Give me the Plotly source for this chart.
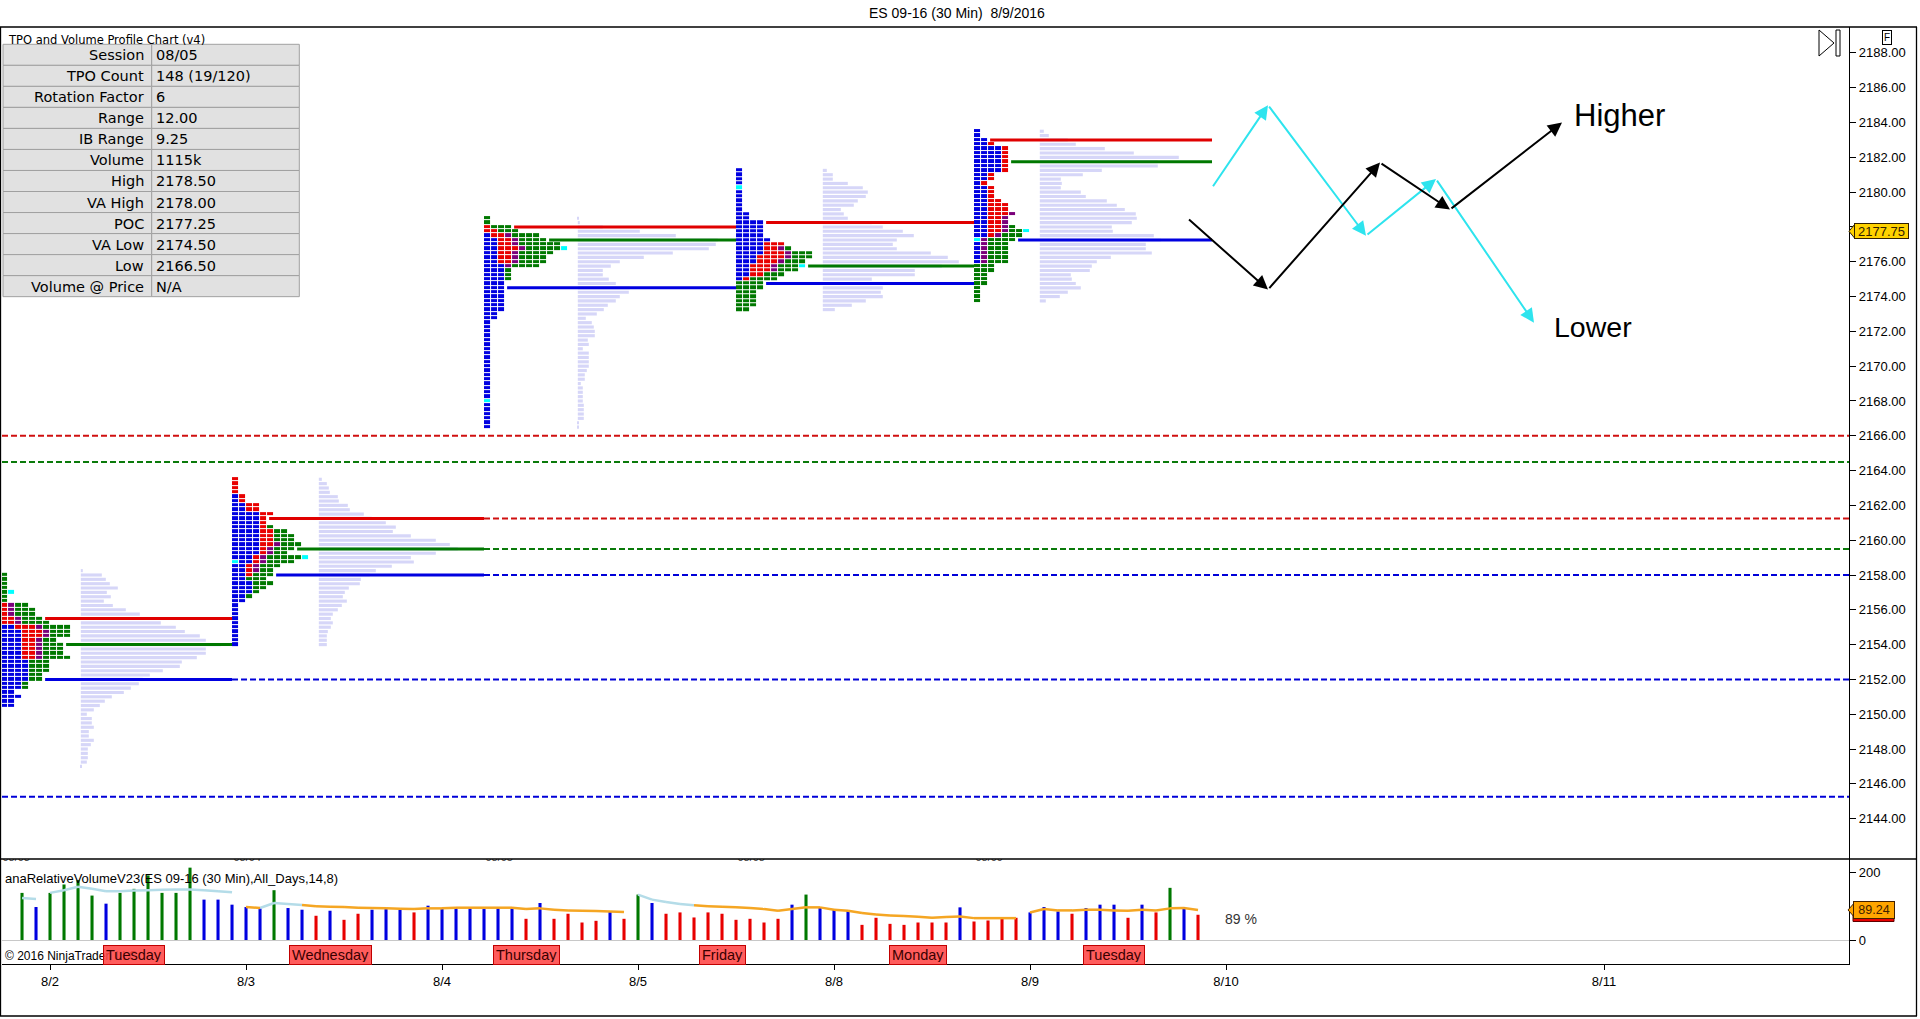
import plotly.graph_objects as go

W, H = 1920, 1019

# ---------------- DATA ----------------
TITLE = "ES 09-16 (30 Min)  8/9/2016"
PRICE_TICKS = [2144, 2146, 2148, 2150, 2152, 2154, 2156, 2158, 2160, 2162, 2164, 2166,
               2168, 2170, 2172, 2174, 2176, 2178, 2180, 2182, 2184, 2186, 2188]
RV_TICKS = [0, 200]
DATE_LABELS = ["8/2", "8/3", "8/4", "8/5", "8/8", "8/9", "8/10", "8/11"]
DATE_TICK_BAR = [2, 16, 30, 44, 58, 72, 86, 113]

SESSION_LABELS = ["08/03", "08/04", "08/05", "08/08", "08/09"]
TPO_START_BAR = [-1.5, 15.0, 33.0, 51.0, 68.0]
SESSION_END_BAR = [15.0, 33.0, 51.0, 68.0, 85.0]
TPO_HIGH = [2158.0, 2163.5, 2178.5, 2181.25, 2183.5]

TPO_0803 = ["G", "G", "G", "G", "GC", "G", "G", "RPGG", "RPGGG", "RPGGG", "RRPGGG",
            "RRPGGGG", "BBRRRPGGGG", "BBBRRRPGGG", "BBBRRRPGGG", "BBBRRPGG", "BBBRRPGGG",
            "BBBRRPGGG", "BBBRRPGGG", "BBBRRPGGGG", "BBBBGGG", "BBBBGGG", "BBBBGGG",
            "BBBBGG", "BBBBGG", "BBBG", "BBBG", "BB", "BBB", "BB", "BB"]
TPO_0804 = ["R", "R", "R", "R", "BR", "BR", "BBRR", "BBRR", "BBBBRR", "BBBBR", "BBBBR",
            "BBBBRG", "BBBBRRGG", "BBBBRRGGG", "BBBBRRGGG", "BBBBRRPGGG", "BBBBRPGGG",
            "BBBBRPGG", "BBBRPGGGGGC", "CBBRPGGGG", "BBRPGGG", "BBRPGG", "BBRGGG", "BBGGG",
            "BBBGGG", "BBBGG", "BBBG", "BBG", "BB", "B", "B", "B", "B", "B", "B", "B", "B",
            "B", "B"]
TPO_0805 = ["G", "G", "RGGG", "RRGGG", "BRRPGGGG", "BBRRPGGGG", "BBRRPGGGGGG",
            "BBRRRPGGGGGC", "BBRRPGGGGG", "BBRRPGGGG", "BBRRPGGGG", "BBBPGGGG", "BBBG",
            "BBBG", "BBBG", "BBB", "BBB", "BBB", "BBB", "BBB", "BBB", "BBB", "BB", "BB",
            "B", "B", "B", "B", "B", "B", "B", "B", "B", "B", "B", "B", "B", "B", "B", "B",
            "B", "B", "C", "B", "B", "B", "B", "B", "B"]
TPO_0808 = ["B", "B", "B", "B", "C", "B", "B", "B", "B", "B", "BB", "BB", "BBBB", "BBBB",
            "BBBB", "BBBB", "BBBBB", "BBBBRRR", "BBBBRRPG", "BBBBRRRPGGG", "BBBRRRRPGGG",
            "BBBRRRPGGG", "BBRRRPGGGC", "BBRRRPGGG", "BBRRGGG", "BRGGGG", "GGGG", "GGGG",
            "GGG", "GGG", "GGG", "GGG", "GG"]
TPO_0809 = ["B", "B", "BB", "BBR", "BBBBR", "BBBBR", "BBBBR", "BBBBR", "BBBBR", "BBBBR",
            "BBR", "BBR", "BR", "BBR", "BBR", "BBR", "BBRR", "BBRRR", "BBRRR", "BBRRRP",
            "BBRRP", "BBRRP", "BBRRPG", "BBRRPGGC", "BBRPGGG", "CPGGGG", "BPGGG", "BPGGG",
            "BPGGG", "BPGGG", "BPGGG", "GGG", "GGG", "GG", "GG", "GG", "G", "G", "G", "G"]
TPO_ROWS = [TPO_0803, TPO_0804, TPO_0805, TPO_0808, TPO_0809]

# volume profile (relative volume per 0.25 price row, top row first)
VOL_START_BAR = [4.2, 21.2, 39.7, 57.2, 72.7]
VOL_HIGH = [2158.25, 2163.5, 2178.5, 2181.25, 2183.5]
VOL_0803 = [2, 21, 25, 29, 37, 26, 30, 23, 32, 45, 59, 81, 80, 95, 104, 119, 125, 140, 125,
            125, 116, 101, 99, 82, 69, 62, 58, 50, 43, 31, 24, 19, 13, 6, 11, 11, 13, 8, 8,
            13, 10, 7, 7, 7, 6, 1]
VOL_0804 = [3, 8, 10, 11, 19, 20, 29, 31, 45, 53, 67, 77, 74, 92, 117, 131, 139, 117, 92,
            95, 73, 57, 51, 42, 41, 30, 26, 24, 28, 23, 19, 14, 12, 14, 12, 9, 8, 8, 8]
VOL_0805 = [1, 2, 25, 62, 98, 140, 138, 131, 95, 66, 42, 33, 25, 25, 31, 38, 52, 51, 42, 38,
            30, 26, 19, 8, 14, 16, 17, 17, 10, 11, 5, 11, 11, 11, 11, 9, 7, 7, 3, 5, 5, 5,
            5, 6, 6, 6, 6, 1, 1]
VOL_0808 = [4, 10, 10, 25, 40, 45, 43, 35, 31, 18, 21, 25, 49, 60, 80, 91, 74, 70, 74, 108,
            125, 136, 119, 92, 92, 49, 49, 60, 58, 60, 43, 29, 12]
VOL_0809 = [4, 9, 28, 36, 65, 94, 139, 118, 118, 62, 43, 21, 22, 21, 41, 46, 67, 77, 85, 96,
            97, 92, 72, 73, 114, 121, 106, 106, 112, 71, 57, 52, 50, 31, 32, 36, 41, 28, 20, 6]
VOLS = [VOL_0803, VOL_0804, VOL_0805, VOL_0808, VOL_0809]

VAH = [2155.5, 2161.25, 2178.0, 2178.25, 2183.0]
POC = [2154.0, 2159.5, 2177.25, 2175.75, 2181.75]
VAL = [2152.0, 2158.0, 2174.5, 2174.75, 2177.25]
NAKED = [("VAL", 0), ("VAH", 1), ("POC", 1), ("VAL", 1)]      # untested levels of visible sessions
OLD_NAKED_PRICE = [2166.0, 2164.5, 2145.25]                   # from earlier sessions
OLD_NAKED_KIND = ["VAH", "POC", "VAL"]

LAST_PRICE = 2177.75

# relative volume indicator (30 min bars)
RV_VALUE = [140, 98, 140, 165, 178, 132, 108, 140, 152, 192, 140, 140, 215, 120, 120, 105,
            98, 95, 148, 95, 90, 72, 87, 60, 78, 90, 92, 90, 82, 102, 92, 98, 95, 92, 95,
            98, 63, 110, 63, 78, 52, 57, 85, 63, 135, 110, 78, 82, 67, 82, 78, 60, 63, 52,
            63, 105, 135, 97, 90, 87, 45, 66, 48, 45, 52, 52, 52, 97, 55, 58, 63, 66, 82,
            98, 85, 78, 95, 105, 105, 66, 105, 82, 155, 98, 75]
RV_COLOR = "GBGGGGBGGG" "GGGBBBBBGB" "BRBRRBBBRB" "BBBBBBRBRR" "RRBRGBRRRR" \
           "RRRRRBGBBB" "RRRRRRRBRR" "RRBBBRBBBR" "BRGBR"
RV_AVG = [125, 122, 140, 148, 158, 152, 145, 145, 147, 148, 149, 150, 150, 148, 145, 142,
          98, 95, 110, 107, 104, 100, 99, 98, 96, 95, 94, 93, 92, 94,
          94, 96, 96, 96, 96, 96, 92, 94, 90, 88, 87, 86, 85, 83,
          135, 120, 113, 107, 103, 100, 99, 97, 95, 92, 87, 92, 97, 97,
          90, 87, 80, 76, 73, 71, 69, 66, 68, 70, 65, 65, 65, 65,
          82, 92, 88, 88, 90, 90, 88, 87, 90, 88, 94, 95, 89.24]
RV_AVG_COLOR = "L" * 16 + "OO" + "LLL" + "O" * 23 + "L" * 5 + "O" * 36
RV_AVG_BREAKS = [2, 16, 44, 72]
RV_TITLE = "anaRelativeVolumeV23(ES 09-16 (30 Min),All_Days,14,8)"

DAY_NAMES = ["Tuesday", "Wednesday", "Thursday", "Friday", "Monday", "Tuesday"]
DAY_CENTER_BAR = [8, 22, 36, 50, 64, 78]

TABLE_TITLE = "TPO and Volume Profile Chart (v4)"
TABLE_LABELS = ["Session", "TPO Count", "Rotation Factor", "Range", "IB Range", "Volume",
                "High", "VA High", "POC", "VA Low", "Low", "Volume @ Price"]
TABLE_VALUES = ["08/05", "148 (19/120)", "6", "12.00", "9.25", "1115k", "2178.50",
                "2178.00", "2177.25", "2174.50", "2166.50", "N/A"]

CYAN_PATH_BAR = [85, 89, 96, 101, 108]
CYAN_PATH_PRICE = [2180.25, 2185.0, 2177.5, 2180.75, 2172.5]
BLACK_PATH_BAR = [83.25, 89, 97, 102, 110]
BLACK_PATH_PRICE = [2178.5, 2174.4, 2181.7, 2179.0, 2184.0]
NOTE_TEXT = ["Higher", "Lower"]
NOTE_BAR = [110.7, 109.3]
NOTE_PRICE = [2184.4, 2172.25]

# ---------------- STYLE / LAYOUT ----------------
def px(x):
    return x / W


def py(y):
    return 1 - y / H


ARIAL = "Liberation Sans, Arial, sans-serif"
TAHOMA = "DejaVu Sans, Tahoma, sans-serif"
NOTE_SIZE = [31, 28.5]
X_RANGE = [-1.43, 130.5]
X_DOM = [px(2), px(1849)]
PRICE_DOM = [py(859), py(27)]
RV_DOM = [py(964), py(859)]
PRICE_RANGE = [2141.68, 2189.49]
RV_RANGE = [-71.3, 240.7]
TICK = 0.25
COL_W = 0.5

TPO_CODE = {"B": 1, "R": 2, "P": 3, "G": 4, "C": 5}
C_BLUE, C_RED, C_PURPLE, C_GREEN, C_CYAN = "#0000E0", "#E80000", "#7A007A", "#007800", "#00FFFF"
LEVEL_COLOR = {"VAH": "#E00000", "POC": "#007800", "VAL": "#0000E0"}
DASH_COLOR = {"VAH": "#D01010", "POC": "#0A7A0A", "VAL": "#0000D8"}
VOL_COLOR = "#D6D6F8"
VOL_SCALE = 1 / 14.0
RV_COLORS = {"G": "#007800", "B": "#0000E0", "R": "#E80000"}
AVG_COLORS = {"L": "#B4DCE8", "O": "#F5A623"}

fig = go.Figure()

# volume profiles
for s in range(5):
    v = VOLS[s]
    prices = [VOL_HIGH[s] - TICK * k for k in range(len(v))]
    fig.add_trace(go.Bar(orientation="h", y=prices, x=[a * VOL_SCALE for a in v],
                         base=VOL_START_BAR[s], width=0.18,
                         marker=dict(color=VOL_COLOR, line=dict(width=0)),
                         xaxis="x", yaxis="y", hoverinfo="skip", showlegend=False))

# TPO profiles
cs = [[0.0, C_BLUE], [0.2, C_BLUE], [0.2, C_RED], [0.4, C_RED], [0.4, C_PURPLE],
      [0.6, C_PURPLE], [0.6, C_GREEN], [0.8, C_GREEN], [0.8, C_CYAN], [1.0, C_CYAN]]
for s in range(5):
    rows = TPO_ROWS[s]
    ncol = max(len(r) for r in rows)
    prices = [TPO_HIGH[s] - TICK * k for k in range(len(rows))]
    z = [[TPO_CODE[ch] for ch in r] + [None] * (ncol - len(r)) for r in rows]
    xs = [TPO_START_BAR[s] + COL_W * c + COL_W / 2 for c in range(ncol)]
    fig.add_trace(go.Heatmap(x=xs, y=prices[::-1], z=z[::-1], colorscale=cs, zmin=0.5,
                             zmax=5.5, showscale=False, xgap=1, ygap=1, hoverinfo="skip",
                             xaxis="x", yaxis="y"))


def row_len(s, price):
    k = int(round((TPO_HIGH[s] - price) / TICK))
    rows = TPO_ROWS[s]
    return len(rows[k]) if 0 <= k < len(rows) else 0


# old naked levels (dashed full width)
for p, kind in zip(OLD_NAKED_PRICE, OLD_NAKED_KIND):
    fig.add_trace(go.Scatter(x=[X_RANGE[0], X_RANGE[1]], y=[p, p], mode="lines",
                             line=dict(color=DASH_COLOR[kind], width=2, dash="6px,3px"),
                             xaxis="x", yaxis="y", hoverinfo="skip", showlegend=False))

# value area / POC lines
for s in range(5):
    for kind, p in (("VAH", VAH[s]), ("POC", POC[s]), ("VAL", VAL[s])):
        x0 = TPO_START_BAR[s] + COL_W * row_len(s, p) + 0.15
        x1 = SESSION_END_BAR[s]
        fig.add_trace(go.Scatter(x=[x0, x1], y=[p, p], mode="lines",
                                 line=dict(color=LEVEL_COLOR[kind], width=3),
                                 xaxis="x", yaxis="y", hoverinfo="skip", showlegend=False))
        if (kind, s) in NAKED:
            fig.add_trace(go.Scatter(x=[x1, X_RANGE[1]], y=[p, p], mode="lines",
                                     line=dict(color=DASH_COLOR[kind], width=2, dash="6px,3px"),
                                     xaxis="x", yaxis="y", hoverinfo="skip", showlegend=False))

# relative volume bars
fig.add_trace(go.Bar(x=list(range(len(RV_VALUE))), y=RV_VALUE, width=0.22,
                     marker=dict(color=[RV_COLORS[c] for c in RV_COLOR], line=dict(width=0)),
                     xaxis="x2", yaxis="y2", hoverinfo="skip", showlegend=False))

# average line (segmented by colour)
seg = {"L": ([], []), "O": ([], [])}
for i in range(1, len(RV_AVG)):
    if i in RV_AVG_BREAKS:
        continue
    c = RV_AVG_COLOR[i]
    seg[c][0].extend([i - 1, i, None])
    seg[c][1].extend([RV_AVG[i - 1], RV_AVG[i], None])
for c, (xx, yy) in seg.items():
    fig.add_trace(go.Scatter(x=xx, y=yy, mode="lines", line=dict(color=AVG_COLORS[c], width=2.5),
                             xaxis="x2", yaxis="y2", hoverinfo="skip", showlegend=False))

# session date labels (clipped at top of indicator panel)
fig.add_trace(go.Scatter(x=[b + 0.1 for b in TPO_START_BAR], y=[RV_RANGE[1] + 3.5] * 5,
                         mode="text", text=SESSION_LABELS, textposition="middle right",
                         textfont=dict(family=ARIAL, size=11, color="#444444"),
                         cliponaxis=True, xaxis="x2", yaxis="y2", hoverinfo="skip",
                         showlegend=False))

ann = []
shapes = []

# arrows
for bars, prices, col in ((CYAN_PATH_BAR, CYAN_PATH_PRICE, "#2EE4EE"),
                          (BLACK_PATH_BAR, BLACK_PATH_PRICE, "#000000")):
    for k in range(1, len(bars)):
        ann.append(dict(x=bars[k], y=prices[k], ax=bars[k - 1], ay=prices[k - 1],
                        xref="x", yref="y", axref="x", ayref="y", text="", showarrow=True,
                        arrowhead=2, arrowsize=1.4, arrowwidth=2, arrowcolor=col, standoff=0))
for t, b, p, fs in zip(NOTE_TEXT, NOTE_BAR, NOTE_PRICE, NOTE_SIZE):
    ann.append(dict(x=b, y=p, xref="x", yref="y", text=t, showarrow=False, xanchor="left",
                    yanchor="middle", font=dict(family=ARIAL, size=fs, color="black")))

# title
ann.append(dict(x=px(957), y=py(13), xref="paper", yref="paper", text=TITLE, showarrow=False,
                xanchor="center", yanchor="middle", font=dict(family=ARIAL, size=14, color="black")))

# table
row_h = 21.03
top = 44.3
for r, (lab, val) in enumerate(zip(TABLE_LABELS, TABLE_VALUES)):
    y0 = top + r * row_h
    y1 = y0 + row_h
    for xa, xb in ((3, 151.7), (151.7, 299.3)):
        shapes.append(dict(type="rect", xref="paper", yref="paper", x0=px(xa), x1=px(xb),
                           y0=py(y1), y1=py(y0), fillcolor="#E1E1E1",
                           line=dict(color="#A0A0A0", width=1), layer="above"))
    ann.append(dict(x=px(146), y=py((y0 + y1) / 2 + 0.5), xref="paper", yref="paper", text=lab,
                    showarrow=False, xanchor="right", yanchor="middle",
                    font=dict(family=TAHOMA, size=14.5, color="black")))
    ann.append(dict(x=px(154), y=py((y0 + y1) / 2 + 0.5), xref="paper", yref="paper", text=val,
                    showarrow=False, xanchor="left", yanchor="middle",
                    font=dict(family=TAHOMA, size=14.5, color="black")))
ann.append(dict(x=px(6), y=py(40), xref="paper", yref="paper", text=TABLE_TITLE,
                showarrow=False, xanchor="left", yanchor="middle",
                font=dict(family=TAHOMA, size=11.5, color="black")))

# indicator texts
ann.append(dict(x=px(3), y=py(878), xref="paper", yref="paper", text=RV_TITLE, showarrow=False,
                xanchor="left", yanchor="middle", font=dict(family=ARIAL, size=13, color="black")))
ann.append(dict(x=px(3), y=py(956), xref="paper", yref="paper", text="© 2016 NinjaTrader, LLC",
                showarrow=False, xanchor="left", yanchor="middle",
                font=dict(family=ARIAL, size=12, color="black")))
for name, b in zip(DAY_NAMES, DAY_CENTER_BAR):
    ann.append(dict(x=b, y=py(954.5), xref="x2", yref="paper", text=name, showarrow=False,
                    xanchor="center", yanchor="middle", bgcolor="rgba(255,70,70,0.88)",
                    bordercolor="#C00000", borderwidth=1, borderpad=2, height=14,
                    font=dict(family=ARIAL, size=14.5, color="#3A0000")))
ann.append(dict(x=85.8, y=62, xref="x2", yref="y2", text=f"{round(RV_AVG[-1])} %",
                showarrow=False, xanchor="left", yanchor="middle",
                font=dict(family=ARIAL, size=14, color="#333333")))

# last value markers on axes
shapes.append(dict(type="rect", xref="paper", yref="y2", x0=px(1853), x1=px(1894),
                   y0=RV_VALUE[-1] - 20, y1=RV_VALUE[-1] + 20, fillcolor="#E80000",
                   line=dict(color="#600000", width=1), layer="above"))
ann.append(dict(x=px(1853), y=RV_AVG[-1], xref="paper", yref="y2", text=f"{RV_AVG[-1]:.2f}",
                showarrow=False, xanchor="left", yanchor="middle", bgcolor="#FFA500",
                bordercolor="#402000", borderwidth=1, borderpad=1, width=38,
                font=dict(family=ARIAL, size=12.5, color="#402000")))
shapes.append(dict(type="path", xref="paper", yref="y2",
                   path=f"M {px(1848)} {RV_AVG[-1]} L {px(1854)} {RV_AVG[-1] + 20} "
                        f"L {px(1854)} {RV_AVG[-1] - 20} Z",
                   fillcolor="#FFA500", line=dict(color="#402000", width=1), layer="above"))
ann.append(dict(x=px(1854), y=LAST_PRICE, xref="paper", yref="y", text=f"{LAST_PRICE:.2f}",
                showarrow=False, xanchor="left", yanchor="middle", bgcolor="#FFD200",
                bordercolor="#302000", borderwidth=1, borderpad=0, width=53, height=14,
                font=dict(family=ARIAL, size=13, color="#302000")))
shapes.append(dict(type="path", xref="paper", yref="y",
                   path=f"M {px(1849)} {LAST_PRICE} L {px(1855)} {LAST_PRICE + 0.42} "
                        f"L {px(1855)} {LAST_PRICE - 0.42} Z",
                   fillcolor="#FFD200", line=dict(color="#302000", width=1), layer="above"))

# F box and play icon
ann.append(dict(x=px(1886.5), y=py(37), xref="paper", yref="paper", text="F", showarrow=False,
                xanchor="center", yanchor="middle", bordercolor="black", borderwidth=1,
                borderpad=1, font=dict(family=ARIAL, size=10, color="black")))
shapes.append(dict(type="path", xref="paper", yref="paper",
                   path=f"M {px(1819)} {py(30)} L {px(1819)} {py(56)} L {px(1834)} {py(43)} Z",
                   line=dict(color="black", width=1), fillcolor="rgba(0,0,0,0)"))
shapes.append(dict(type="rect", xref="paper", yref="paper", x0=px(1836), x1=px(1840),
                   y0=py(56), y1=py(30), line=dict(color="black", width=1)))

# frame
for (x0, y0, x1, y1) in ((0, 27, 1917, 27), (0.5, 27, 0.5, 1016), (1916.5, 27, 1916.5, 1016),
                         (0, 1016, 1917, 1016), (0, 859, 1917, 859)):
    shapes.append(dict(type="line", xref="paper", yref="paper", x0=px(x0), y0=py(y0),
                       x1=px(x1), y1=py(y1), line=dict(color="black", width=1.3), layer="above"))

axis_font = dict(family=ARIAL, size=13, color="black")
fig.update_layout(
    width=W, height=H, margin=dict(l=0, r=0, t=0, b=0), paper_bgcolor="white",
    plot_bgcolor="white", barmode="overlay", showlegend=False,
    xaxis=dict(domain=X_DOM, range=X_RANGE, showticklabels=False, showgrid=False,
               zeroline=False, showline=False, ticks="", anchor="y", fixedrange=True),
    yaxis=dict(domain=PRICE_DOM, range=PRICE_RANGE, side="right", anchor="x",
               tickvals=PRICE_TICKS, ticktext=[f"{t:.2f}" for t in PRICE_TICKS],
               ticks="outside", ticklen=6, tickcolor="black", showline=True,
               linecolor="black", linewidth=1.3, showgrid=False, zeroline=False,
               tickfont=axis_font, fixedrange=True),
    xaxis2=dict(domain=X_DOM, range=X_RANGE, anchor="y2", tickvals=DATE_TICK_BAR,
                ticktext=DATE_LABELS, ticks="outside", ticklen=5, tickcolor="black",
                showline=True, linecolor="black", linewidth=1.3, showgrid=False,
                zeroline=False, tickfont=axis_font, fixedrange=True),
    yaxis2=dict(domain=RV_DOM, range=RV_RANGE, side="right", anchor="x2", tickvals=RV_TICKS,
                ticks="outside", ticklen=6, tickcolor="black", showline=True,
                linecolor="black", linewidth=1.3, showgrid=False, zeroline=True,
                zerolinecolor="#C8C8C8", zerolinewidth=1, tickfont=axis_font, fixedrange=True),
    annotations=ann, shapes=shapes,
)

fig.write_html("out.html", config={"displayModeBar": False},
               post_script="document.body.style.margin='0px';"
                           "document.body.style.padding='0px';"
                           "document.body.style.overflow='hidden';")
